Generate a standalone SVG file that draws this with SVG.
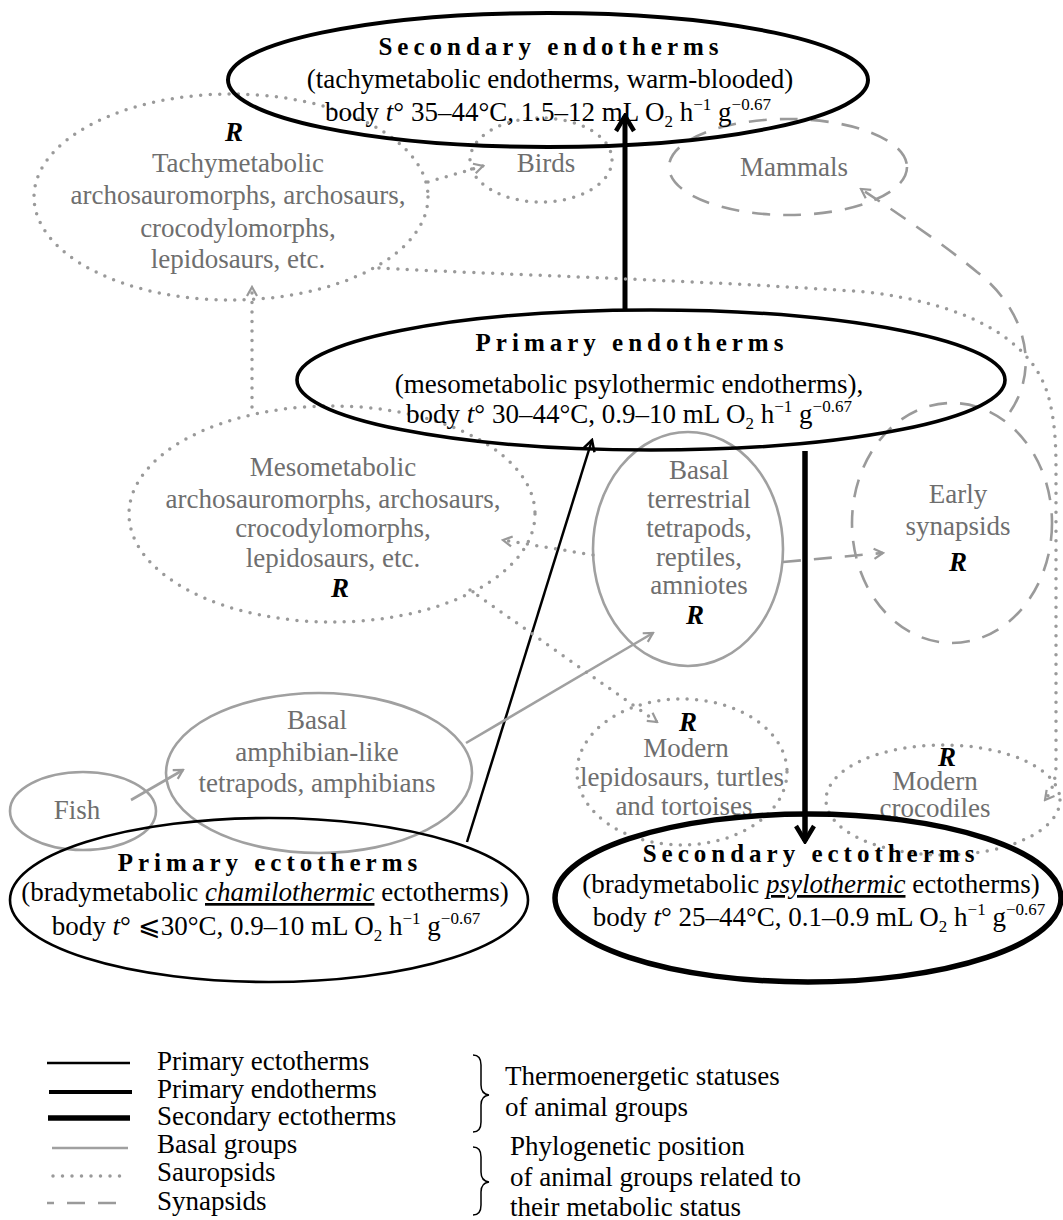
<svg xmlns="http://www.w3.org/2000/svg" width="1063" height="1220" viewBox="0 0 1063 1220">
<style>
text{font-family:"Liberation Serif","Times New Roman",serif;font-size:27px}
.blk{fill:#000}
.gry{fill:#6e6e6e}
.ttl{font-weight:bold;font-size:25px;letter-spacing:5px}
.R{font-weight:bold;font-style:italic;fill:#000}
.sm{font-size:17px}
.dot{fill:none;stroke:#9a9a9a;stroke-width:3.5;stroke-dasharray:0 9.5;stroke-linecap:round}
.dash{fill:none;stroke:#9a9a9a;stroke-width:2.6;stroke-dasharray:18 13}
.bas{fill:none;stroke:#a0a0a0;stroke-width:2.6}
.k{fill:none;stroke:#000}
</style>
<defs>
<marker id="ab" viewBox="0 0 24 24" refX="21" refY="12" markerWidth="24" markerHeight="24" markerUnits="userSpaceOnUse" orient="auto"><path d="M6,3 L21,12 L6,21" fill="none" stroke="#000" stroke-width="4.5"/></marker>
<marker id="at" viewBox="0 0 16 16" refX="14" refY="8" markerWidth="16" markerHeight="16" markerUnits="userSpaceOnUse" orient="auto"><path d="M3,2 L14,8 L3,14" fill="none" stroke="#000" stroke-width="2.5"/></marker>
<marker id="ag" viewBox="0 0 14 14" refX="12" refY="7" markerWidth="14" markerHeight="14" markerUnits="userSpaceOnUse" orient="auto"><path d="M3,2 L12,7 L3,12" fill="none" stroke="#999" stroke-width="2.2"/></marker>
</defs>

<g id="tachy-sauropsids">
<ellipse class="dot" cx="231" cy="197" rx="197" ry="103"/>
<text class="R" x="234" y="141" text-anchor="middle">R</text>
<text class="gry" text-anchor="middle"><tspan x="238" y="172">Tachymetabolic</tspan><tspan x="238" y="204">archosauromorphs, archosaurs,</tspan><tspan x="238" y="237">crocodylomorphs,</tspan><tspan x="238" y="268">lepidosaurs, etc.</tspan></text>
</g>
<g id="birds">
<ellipse class="dot" cx="541" cy="160" rx="71" ry="42"/>
<text class="gry" x="546" y="172" text-anchor="middle">Birds</text>
</g>
<g id="mammals">
<ellipse class="dash" cx="788" cy="167" rx="119" ry="48"/>
<text class="gry" x="794" y="176" text-anchor="middle">Mammals</text>
</g>
<g id="meso-sauropsids">
<ellipse class="dot" cx="332" cy="514" rx="203" ry="108"/>
<text class="gry" text-anchor="middle"><tspan x="333" y="476">Mesometabolic</tspan><tspan x="333" y="508">archosauromorphs, archosaurs,</tspan><tspan x="333" y="537">crocodylomorphs,</tspan><tspan x="333" y="567">lepidosaurs, etc.</tspan></text>
<text class="R" x="340" y="597" text-anchor="middle">R</text>
</g>
<g id="basal-terrestrial">
<ellipse class="bas" cx="688" cy="549" rx="95" ry="117"/>
<text class="gry" text-anchor="middle"><tspan x="699" y="479">Basal</tspan><tspan x="699" y="508">terrestrial</tspan><tspan x="699" y="537">tetrapods,</tspan><tspan x="699" y="566">reptiles,</tspan><tspan x="699" y="594">amniotes</tspan></text>
<text class="R" x="695" y="624" text-anchor="middle">R</text>
</g>
<g id="early-synapsids">
<ellipse class="dash" cx="952" cy="523" rx="100" ry="120"/>
<text class="gry" text-anchor="middle"><tspan x="958" y="503">Early</tspan><tspan x="958" y="535">synapsids</tspan></text>
<text class="R" x="958" y="571" text-anchor="middle">R</text>
</g>
<g id="fish">
<ellipse class="bas" cx="83" cy="811" rx="73" ry="39"/>
<text class="gry" x="77" y="819" text-anchor="middle">Fish</text>
</g>
<g id="basal-amphibians">
<ellipse class="bas" cx="319" cy="773" rx="153" ry="80"/>
<text class="gry" text-anchor="middle"><tspan x="317" y="729">Basal</tspan><tspan x="317" y="761">amphibian-like</tspan><tspan x="317" y="792">tetrapods, amphibians</tspan></text>
</g>
<g id="modern-lepidosaurs">
<ellipse class="dot" cx="682" cy="772" rx="105" ry="73"/>
<text class="R" x="688" y="731" text-anchor="middle">R</text>
<text class="gry" text-anchor="middle"><tspan x="686" y="757">Modern</tspan><tspan x="682" y="786">lepidosaurs, turtles</tspan><tspan x="684" y="815">and tortoises</tspan></text>
</g>
<g id="modern-crocodiles">
<ellipse class="dot" cx="943" cy="800" rx="117" ry="55"/>
<text class="R" x="947" y="766" text-anchor="middle">R</text>
<text class="gry" text-anchor="middle"><tspan x="935" y="790">Modern</tspan><tspan x="935" y="817">crocodiles</tspan></text>
</g>

<g id="secondary-endotherms">
<ellipse class="k" stroke-width="4" cx="548" cy="80" rx="320" ry="67"/>
<text class="blk ttl" x="551" y="55" text-anchor="middle">Secondary endotherms</text>
<text class="blk" x="550" y="88" text-anchor="middle">(tachymetabolic endotherms, warm-blooded)</text>
<text class="blk" x="548" y="121" text-anchor="middle">body <tspan font-style="italic">t</tspan>° 35–44°C, 1.5–12 mL O<tspan class="sm" dy="6">2</tspan><tspan dy="-6"> h</tspan><tspan class="sm" dy="-11">−1</tspan><tspan dy="11"> g</tspan><tspan class="sm" dy="-11">−0.67</tspan></text>
</g>
<g id="primary-endotherms">
<ellipse class="k" stroke-width="3.6" cx="651" cy="380" rx="354" ry="70"/>
<text class="blk ttl" x="632" y="351" text-anchor="middle">Primary endotherms</text>
<text class="blk" x="629" y="393" text-anchor="middle">(mesometabolic psylothermic endotherms),</text>
<text class="blk" x="629" y="423" text-anchor="middle">body <tspan font-style="italic">t</tspan>° 30–44°C, 0.9–10 mL O<tspan class="sm" dy="6">2</tspan><tspan dy="-6"> h</tspan><tspan class="sm" dy="-11">−1</tspan><tspan dy="11"> g</tspan><tspan class="sm" dy="-11">−0.67</tspan></text>
</g>
<g id="primary-ectotherms">
<ellipse class="k" stroke-width="2.6" cx="269" cy="900" rx="259" ry="82"/>
<text class="blk ttl" x="270" y="871" text-anchor="middle">Primary ectotherms</text>
<text class="blk" x="265" y="901" text-anchor="middle">(bradymetabolic <tspan font-style="italic" text-decoration="underline">chamilothermic</tspan> ectotherms)</text>
<text class="blk" x="266" y="935" text-anchor="middle">body <tspan font-style="italic">t</tspan>° ⩽30°C, 0.9–10 mL O<tspan class="sm" dy="6">2</tspan><tspan dy="-6"> h</tspan><tspan class="sm" dy="-11">−1</tspan><tspan dy="11"> g</tspan><tspan class="sm" dy="-11">−0.67</tspan></text>
</g>
<g id="secondary-ectotherms">
<ellipse class="k" stroke-width="5.5" cx="808" cy="898" rx="253" ry="84"/>
<text class="blk ttl" x="811" y="862" text-anchor="middle">Secondary ectotherms</text>
<text class="blk" x="811" y="893" text-anchor="middle">(bradymetabolic <tspan font-style="italic" text-decoration="underline">psylothermic</tspan> ectotherms)</text>
<text class="blk" x="819" y="926" text-anchor="middle">body <tspan font-style="italic">t</tspan>° 25–44°C, 0.1–0.9 mL O<tspan class="sm" dy="6">2</tspan><tspan dy="-6"> h</tspan><tspan class="sm" dy="-11">−1</tspan><tspan dy="11"> g</tspan><tspan class="sm" dy="-11">−0.67</tspan></text>
</g>

<g id="connectors">
<line class="k" stroke-width="5" x1="625" y1="311" x2="625" y2="116" marker-end="url(#ab)"/>
<line class="k" stroke-width="5.5" x1="805" y1="451" x2="805" y2="841" marker-end="url(#ab)"/>
<line class="k" stroke-width="2.5" x1="467" y1="842" x2="592" y2="440" marker-end="url(#at)"/>
<line class="bas" x1="131" y1="800" x2="183" y2="770" marker-end="url(#ag)"/>
<line class="bas" x1="466" y1="743" x2="653" y2="633" marker-end="url(#ag)"/>
<line class="dot" x1="252" y1="407" x2="252" y2="287" marker-end="url(#ag)"/>
<line class="dot" x1="428" y1="182" x2="483" y2="166" marker-end="url(#ag)"/>
<line class="dot" x1="593" y1="555" x2="503" y2="540" marker-end="url(#ag)"/>
<line class="dot" x1="470" y1="590" x2="657" y2="722" marker-end="url(#ag)"/>
<path class="dot" d="M379,268 C480,274 700,280 866,292 C960,303 1030,335 1048,395 C1055,420 1056,445 1056,470 L1056,765 Q1056,786 1045,800" marker-end="url(#ag)"/>
<line class="dash" x1="783" y1="562" x2="883" y2="553" marker-end="url(#ag)"/>
<path class="dash" d="M1010,412 C1040,368 1026,310 977,272 C942,243 900,215 861,189" marker-end="url(#ag)"/>
</g>

<g id="legend">
<line class="k" stroke-width="2.5" x1="47" y1="1063" x2="130" y2="1063"/>
<line class="k" stroke-width="4" x1="49" y1="1092" x2="132" y2="1092"/>
<line class="k" stroke-width="5.5" x1="48" y1="1118" x2="130" y2="1118"/>
<line class="bas" stroke-width="3" x1="52" y1="1148" x2="128" y2="1148"/>
<line class="dot" x1="53" y1="1176" x2="128" y2="1176"/>
<line class="dash" stroke-dashoffset="11" x1="47" y1="1203" x2="129" y2="1203"/>
<text class="blk"><tspan x="157" y="1070">Primary ectotherms</tspan><tspan x="157" y="1098">Primary endotherms</tspan><tspan x="157" y="1125">Secondary ectotherms</tspan><tspan x="157" y="1153">Basal groups</tspan><tspan x="157" y="1181">Sauropsids</tspan><tspan x="157" y="1210">Synapsids</tspan></text>
<path class="k" stroke-width="1.5" d="M473,1055 Q481,1055 481,1065 L481,1085 Q481,1094 489,1095 Q481,1096 481,1105 L481,1122 Q481,1132 473,1132"/>
<path class="k" stroke-width="1.5" d="M473,1147 Q481,1147 481,1157 L481,1172 Q481,1181 489,1182 Q481,1183 481,1192 L481,1205 Q481,1215 473,1215"/>
<text class="blk"><tspan x="505" y="1085">Thermoenergetic statuses</tspan><tspan x="505" y="1116">of animal groups</tspan><tspan x="510" y="1155">Phylogenetic position</tspan><tspan x="510" y="1186">of animal groups related to</tspan><tspan x="510" y="1216">their metabolic status</tspan></text>
</g>
</svg>
